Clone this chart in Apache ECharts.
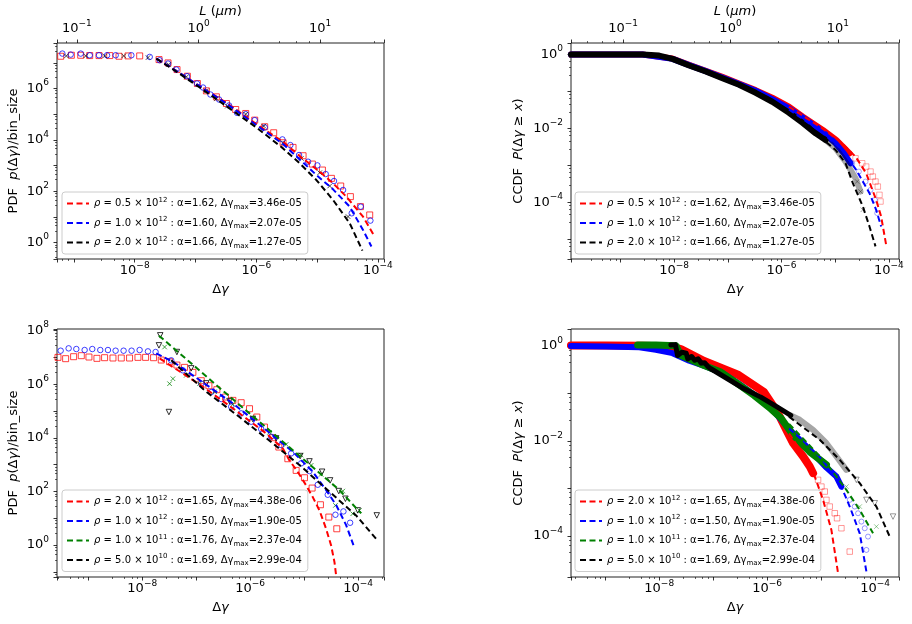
<!DOCTYPE html>
<html>
<head>
<meta charset="utf-8">
<script src="https://cdn.jsdelivr.net/npm/echarts@6/dist/echarts.min.js"></script>
<style>
  html, body { margin: 0; padding: 0; background: #fff; }
  #chart { width: 912px; height: 624px; }
</style>
</head>
<body>
<div id="chart"></div>
<script>
// every point is [log10(Δγ), log10(value)]

// ---- top left: PDF, three densities
const tlRed = [[-9.217,7.254],[-9.042,7.293],[-8.888,7.293],[-8.740,7.280],[-8.587,7.280],[-8.411,7.280],[-8.258,7.254],[-8.110,7.267],[-7.918,7.267],[-7.600,7.124],[-7.452,6.995],[-7.304,6.736],[-7.134,6.477],[-6.969,6.192],[-6.821,5.907],[-6.657,5.674],[-6.492,5.415],[-6.339,5.181],[-6.174,5.026],[-6.026,4.767],[-5.862,4.508],[-5.714,4.275],[-5.560,3.886],[-5.396,3.705],[-5.231,3.381],[-5.078,3.057],[-4.913,2.824],[-4.765,2.500],[-4.612,2.202],[-4.453,1.788],[-4.288,1.399],[-4.135,1.075]];
const tlBlue = [[-9.190,7.358],[-9.053,7.319],[-8.888,7.358],[-8.740,7.293],[-8.587,7.293],[-8.455,7.293],[-8.313,7.293],[-8.055,7.293],[-7.753,7.228],[-7.589,7.098],[-7.452,6.969],[-7.315,6.736],[-7.139,6.477],[-6.975,6.192],[-6.876,6.036],[-6.755,5.764],[-6.613,5.570],[-6.448,5.337],[-6.317,5.052],[-6.174,5.000],[-6.026,4.767],[-5.862,4.482],[-5.571,4.016],[-5.440,3.795],[-5.297,3.407],[-5.149,3.148],[-4.996,3.005],[-4.859,2.668],[-4.722,2.396],[-4.573,2.047],[-4.431,1.140],[-4.283,1.399],[-4.124,0.855]];
const tlBlack = [[-9.124,7.267],[-8.806,7.267],[-8.493,7.267],[-8.181,7.267],[-7.781,7.202],[-7.441,6.930],[-7.150,6.451],[-6.821,5.907],[-6.657,5.596],[-6.476,5.311],[-6.174,5.000],[-5.878,4.534],[-5.560,3.886],[-5.259,3.277],[-4.957,2.720],[-4.793,2.202],[-4.491,1.010]];
const tlFitRed = [[-7.644,7.163],[-7.315,6.684],[-6.931,6.088],[-6.492,5.440],[-5.999,4.611],[-5.560,3.925],[-5.286,3.368],[-4.957,2.759],[-4.738,2.306],[-4.519,1.788],[-4.245,1.010],[-4.053,0.233]];
const tlFitBlue = [[-7.644,7.163],[-7.315,6.684],[-6.931,6.088],[-6.492,5.415],[-5.999,4.573],[-5.560,3.834],[-5.286,3.238],[-5.012,2.630],[-4.738,2.073],[-4.464,1.399],[-4.245,0.492],[-4.107,-0.155]];
const tlFitBlack = [[-7.644,7.163],[-7.315,6.658],[-6.931,6.036],[-6.492,5.311],[-5.999,4.482],[-5.560,3.666],[-5.286,3.083],[-5.012,2.435],[-4.738,1.658],[-4.464,0.751],[-4.255,-0.311]];

// ---- top right: CCDF, three densities
const trBandRed = [[-9.922,0.0],[-8.589,0.0],[-8.031,-0.108],[-7.721,-0.279],[-7.411,-0.441],[-7.101,-0.604],[-6.791,-0.784],[-6.481,-0.964],[-6.171,-1.171],[-5.860,-1.414],[-5.600,-1.685],[-5.228,-2.045],[-4.980,-2.315],[-4.731,-2.676]];
const trBandBlue = [[-9.922,0.0],[-8.589,0.0],[-8.031,-0.117],[-7.721,-0.288],[-7.411,-0.450],[-7.101,-0.622],[-6.791,-0.802],[-6.481,-0.982],[-6.171,-1.207],[-5.860,-1.459],[-5.550,-1.757],[-5.240,-2.090],[-4.992,-2.405],[-4.837,-2.676],[-4.713,-2.946]];
const trBandBlack = [[-9.922,0.0],[-9.271,0.0],[-8.589,0.0],[-8.279,-0.027],[-8.031,-0.117],[-7.721,-0.297],[-7.411,-0.459],[-7.101,-0.640],[-6.791,-0.820],[-6.481,-1.036],[-6.171,-1.279],[-5.860,-1.577],[-5.612,-1.847],[-5.364,-2.135],[-5.178,-2.315]];
const trGrayBlack = [[-5.178,-2.315],[-4.992,-2.541],[-4.806,-2.901],[-4.620,-3.351],[-4.527,-3.712]];
const trTailRed = [[-4.620,-2.811],[-4.496,-2.946],[-4.422,-3.036],[-4.341,-3.171],[-4.298,-3.306],[-4.248,-3.441],[-4.205,-3.577],[-4.174,-3.802],[-4.155,-3.982]];
const trTailBlue = [[-4.682,-2.946],[-4.558,-3.171],[-4.434,-3.441],[-4.341,-3.667],[-4.260,-3.937],[-4.217,-4.297]];
const trTailBlack = [[-4.589,-3.441],[-4.527,-3.712],[-4.484,-4.207]];
const trFitRed = [[-5.860,-1.414],[-5.240,-2.000],[-4.868,-2.405],[-4.620,-2.766],[-4.422,-3.216],[-4.236,-3.937],[-4.143,-4.387],[-4.050,-5.153]];
const trFitBlue = [[-5.860,-1.486],[-5.240,-2.117],[-4.868,-2.586],[-4.608,-3.126],[-4.360,-3.757],[-4.236,-4.207],[-4.143,-4.658]];
const trFitBlack = [[-5.860,-1.577],[-5.364,-2.135],[-4.992,-2.586],[-4.806,-2.946],[-4.670,-3.486],[-4.484,-4.117],[-4.360,-4.658],[-4.248,-5.198]];

// ---- bottom left: PDF, four densities
const blRed = [[-9.562,7.002],[-9.420,6.953],[-9.272,7.027],[-9.130,7.065],[-8.988,7.015],[-8.840,6.965],[-8.698,6.990],[-8.543,6.978],[-8.389,6.978],[-8.235,6.978],[-8.080,7.002],[-7.938,7.002],[-7.790,6.990],[-7.648,6.903],[-7.494,6.841],[-7.358,6.716],[-7.216,6.629],[-7.062,6.443],[-6.907,6.132],[-6.765,5.945],[-6.617,5.796],[-6.457,5.522],[-6.321,5.398],[-6.167,5.311],[-6.012,5.087],[-5.877,4.776],[-5.735,4.403],[-5.580,4.005],[-5.469,3.657],[-5.302,3.221],[-5.148,2.786],[-4.994,2.512],[-4.852,2.127],[-4.698,1.505],[-4.543,1.045],[-4.395,0.609]];
const blBlue = [[-9.512,7.251],[-9.364,7.338],[-9.222,7.313],[-9.068,7.276],[-8.926,7.313],[-8.778,7.276],[-8.636,7.276],[-8.494,7.251],[-8.346,7.251],[-8.198,7.251],[-8.049,7.276],[-7.895,7.226],[-7.753,7.201],[-7.463,6.891],[-7.247,6.517],[-6.907,6.020],[-6.722,5.709],[-6.537,5.448],[-6.352,5.162],[-6.167,4.913],[-5.981,4.602],[-5.796,4.328],[-5.611,4.042],[-5.426,3.731],[-5.241,3.420],[-5.056,3.047],[-4.901,2.761],[-4.747,2.251],[-4.562,1.878],[-4.420,1.132],[-4.272,1.256],[-4.148,0.833]];
const blGreen = [[-7.586,7.388],[-7.494,6.020],[-7.432,6.206],[-7.185,6.331],[-6.938,6.020],[-6.660,5.721],[-6.321,5.249],[-5.951,4.751],[-5.642,4.204],[-5.333,3.756],[-5.056,3.358],[-4.870,2.973],[-4.685,2.637],[-4.420,1.480],[-4.284,2.015],[-4.099,1.169],[-3.975,1.294]];
const blBlack = [[-7.667,7.823],[-7.691,7.450],[-7.506,4.963],[-7.358,7.201],[-7.093,6.592],[-6.815,6.032],[-6.383,5.373],[-5.951,4.701],[-5.519,3.980],[-5.074,3.321],[-4.901,3.122],[-4.667,2.736],[-4.519,2.413],[-4.358,2.015],[-4.235,1.729],[-4.006,1.294],[-3.654,1.107]];
const blFitRed = [[-7.679,6.965],[-6.938,5.995],[-6.321,5.100],[-5.704,4.167],[-5.395,3.607],[-5.272,3.159],[-5.117,2.724],[-4.963,2.226],[-4.840,1.791],[-4.716,1.294],[-4.593,0.609],[-4.500,-0.012],[-4.438,-0.634],[-4.407,-1.132]];
const blFitBlue = [[-7.741,7.152],[-7.432,6.841],[-6.938,6.157],[-6.321,5.286],[-5.704,4.291],[-5.210,3.483],[-4.840,2.736],[-4.593,2.052],[-4.407,1.493],[-4.222,0.746],[-4.086,0.000]];
const blFitGreen = [[-7.691,7.811],[-7.185,6.940],[-6.630,5.970],[-6.012,4.913],[-5.395,3.856],[-4.778,2.799],[-4.346,2.052],[-3.944,1.182]];
const blFitBlack = [[-7.463,6.891],[-6.815,5.721],[-6.198,4.776],[-5.580,3.794],[-5.086,2.985],[-4.593,2.102],[-4.037,1.107],[-3.667,0.236]];

// ---- bottom right: CCDF, four densities
const brBandRed = [[-9.636,0.014],[-8.988,0.014],[-8.309,0.007],[-7.784,-0.007],[-7.599,-0.063],[-7.167,-0.316],[-6.549,-0.598],[-6.056,-0.970],[-5.809,-1.392],[-5.623,-1.814],[-5.519,-2.046],[-5.333,-2.327],[-5.210,-2.538],[-5.148,-2.678]];
const brBandBlue = [[-9.636,0.0],[-8.988,-0.007],[-8.370,-0.028],[-8.062,-0.077],[-7.753,-0.150],[-7.444,-0.310],[-7.136,-0.430],[-6.827,-0.570],[-6.519,-0.800],[-6.210,-1.050],[-5.901,-1.340],[-5.519,-1.835],[-5.210,-2.186],[-4.901,-2.560],[-4.716,-2.749],[-4.623,-2.960]];
const brBandGreen = [[-8.401,0.021],[-8.062,0.021],[-7.691,0.007],[-7.599,-0.197],[-7.167,-0.408],[-6.858,-0.548],[-6.549,-0.794],[-6.241,-1.040],[-5.932,-1.322],[-5.747,-1.511],[-5.519,-1.877],[-5.210,-2.229],[-4.901,-2.500]];
const brBandBlack = [[-7.784,0.021],[-7.700,0.030],[-7.660,-0.200],[-7.580,-0.130],[-7.500,-0.150],[-7.470,-0.270],[-7.400,-0.220],[-7.340,-0.300],[-7.280,-0.270],[-7.220,-0.360],[-7.160,-0.350],[-7.100,-0.430],[-7.043,-0.478],[-6.735,-0.689],[-6.426,-0.900],[-6.117,-1.076],[-5.809,-1.286],[-5.562,-1.462]];
const brGrayBlack = [[-5.562,-1.462],[-5.395,-1.554],[-5.148,-1.765],[-4.901,-2.046],[-4.716,-2.327],[-4.531,-2.608]];
const brTailRed = [[-5.056,-2.819],[-4.994,-2.960],[-4.932,-3.065],[-4.901,-3.241],[-4.840,-3.381],[-4.747,-3.522],[-4.704,-3.627],[-4.623,-3.838],[-4.469,-4.330]];
const brTailBlue = [[-4.469,-3.241],[-4.377,-3.381],[-4.315,-3.522],[-4.253,-3.698],[-4.191,-3.838],[-4.130,-4.014],[-4.160,-4.295]];
const brTailGreen = [[-4.716,-2.749],[-4.531,-2.960],[-4.284,-3.381],[-3.975,-3.803]];
const brTailBlack = [[-4.346,-2.819],[-4.160,-3.241],[-4.006,-3.311],[-3.667,-3.592]];
const brFitRed = [[-5.593,-1.842],[-5.346,-2.264],[-5.117,-2.749],[-4.963,-3.241],[-4.809,-3.874],[-4.685,-4.787]];
const brFitBlue = [[-5.593,-1.735],[-5.284,-2.050],[-4.975,-2.400],[-4.654,-2.889],[-4.469,-3.381],[-4.284,-3.944],[-4.160,-4.752]];
const brFitGreen = [[-5.593,-1.640],[-4.901,-2.467],[-4.531,-3.030],[-4.284,-3.452],[-4.037,-3.944]];
const brFitBlack = [[-5.593,-1.490],[-5.025,-1.975],[-4.654,-2.397],[-4.284,-2.889],[-3.975,-3.381],[-3.728,-4.014]];

// legend labels
const topFitNames = ['fit05', 'fit10', 'fit20'];
const bottomFitNames = ['fit2e12', 'fit1e12', 'fit1e11', 'fit5e10'];
const legendText = {
  fit05: '{i|ρ} = 0.5 × 10{s|12} : α=1.62, Δγ{m|max}=3.46e-05',
  fit10: '{i|ρ} = 1.0 × 10{s|12} : α=1.60, Δγ{m|max}=2.07e-05',
  fit20: '{i|ρ} = 2.0 × 10{s|12} : α=1.66, Δγ{m|max}=1.27e-05',
  fit2e12: '{i|ρ} = 2.0 × 10{s|12} : α=1.65, Δγ{m|max}=4.38e-06',
  fit1e12: '{i|ρ} = 1.0 × 10{s|12} : α=1.50, Δγ{m|max}=1.90e-05',
  fit1e11: '{i|ρ} = 1.0 × 10{s|11} : α=1.76, Δγ{m|max}=2.37e-04',
  fit5e10: '{i|ρ} = 5.0 × 10{s|10} : α=1.69, Δγ{m|max}=2.99e-04'
};

const FONT = 'DejaVu Sans';
const RED = '#ff0000', BLUE = '#0000ff', GREEN = '#008000', BLACK = '#000000';
const X_MARK = 'path://M0,0L10,10M10,0L0,10';

const pow10 = v => Math.pow(10, v);
const toXY = pts => pts.map(p => [pow10(p[0]), pow10(p[1])]);

const tickRich = {
  b: {fontFamily: FONT, fontSize: 13, color: '#000', lineHeight: 20},
  s: {fontFamily: FONT, fontSize: 9, color: '#000', lineHeight: 10, verticalAlign: 'top'}
};
const nameRich = {
  n: {fontFamily: FONT, fontSize: 13, color: '#000'},
  i: {fontFamily: FONT, fontSize: 13, color: '#000', fontStyle: 'italic'}
};
const legendRich = {
  i: {fontFamily: FONT, fontSize: 10, color: '#000', fontStyle: 'italic'},
  s: {fontFamily: FONT, fontSize: 7, color: '#000', lineHeight: 8, verticalAlign: 'top'},
  m: {fontFamily: FONT, fontSize: 7, color: '#000', lineHeight: 8, verticalAlign: 'bottom'}
};

function decadeLabel(step) {
  return function (v) {
    const e = Math.log10(v);
    const r = Math.round(e);
    if (Math.abs(e - r) > 1e-4 || r % step !== 0) return '';
    return '{b|10}{s|' + (r < 0 ? '\u2212' + (-r) : r) + '}';
  };
}

function logAxis(gridIndex, position, lo, hi, step, margin, name, nameGap) {
  return {
    type: 'log', gridIndex, position, min: pow10(lo), max: pow10(hi),
    splitLine: {show: false},
    axisLine: {show: false},
    axisTick: {show: true, length: 3.5, lineStyle: {color: '#000', width: 0.8}},
    minorTick: {show: true, splitNumber: 5, length: 2, lineStyle: {color: '#000', width: 0.6}},
    minorSplitLine: {show: false},
    axisLabel: {formatter: decadeLabel(step), rich: tickRich, margin, showMinLabel: false, showMaxLabel: false},
    name, nameLocation: 'middle', nameGap,
    nameTextStyle: {fontFamily: FONT, fontSize: 13, color: '#000', rich: nameRich}
  };
}

const NAME_DG = '{n|Δ}{i|γ}';
const NAME_L = '{i|L}{n| (}{i|μm}{n|)}';
const NAME_PDF = '{n|PDF  }{i|p}{n|(Δ}{i|γ}{n|)/bin_size}';
const NAME_CCDF = '{n|CCDF  }{i|P}{n|(Δ}{i|γ}{n| ≥ }{i|x}{n|)}';

const xAxis = [
  logAxis(0, 'bottom', -9.278, -3.90, 2, 2, NAME_DG, 24),
  logAxis(0, 'top', -1.164, 1.525, 1, 4, NAME_L, 23),
  logAxis(1, 'bottom', -9.922, -3.81, 2, 2, NAME_DG, 24),
  logAxis(1, 'top', -1.486, 1.57, 1, 4, NAME_L, 23),
  logAxis(2, 'bottom', -9.58, -3.52, 2, 2, NAME_DG, 24),
  logAxis(3, 'bottom', -9.635, -3.556, 2, 2, NAME_DG, 24)
];
const yAxis = [
  logAxis(0, 'left', -0.64, 7.77, 2, 8, NAME_PDF, 37),
  logAxis(1, 'left', -5.54, 0.313, 2, 8, NAME_CCDF, 46),
  logAxis(2, 'left', -1.19, 8.06, 2, 8, NAME_PDF, 37),
  logAxis(3, 'left', -4.865, 0.359, 2, 8, NAME_CCDF, 46)
];

function marks(xi, yi, pts, symbol, color, size, opacity, rotate) {
  return {
    type: 'scatter', xAxisIndex: xi, yAxisIndex: yi, data: toXY(pts),
    symbol, symbolSize: size, symbolRotate: rotate || 0, z: 3,
    itemStyle: {color: 'rgba(0,0,0,0)', borderColor: color, borderWidth: 1, opacity}
  };
}
function band(xi, yi, pts, color, width) {
  return {
    type: 'line', xAxisIndex: xi, yAxisIndex: yi, data: toXY(pts), symbol: 'none', z: 2,
    lineStyle: {color, width, cap: 'round', join: 'round'}
  };
}
function fit(name, xi, yi, pts, color) {
  return {
    name, type: 'line', xAxisIndex: xi, yAxisIndex: yi, data: toXY(pts), symbol: 'none', z: 4,
    itemStyle: {color},
    lineStyle: {color, width: 2, type: [6, 3.5]}
  };
}

const series = [
  // top left
  marks(0, 0, tlRed, 'rect', RED, 6, 0.75),
  marks(0, 0, tlBlue, 'circle', BLUE, 5.5, 0.75),
  marks(0, 0, tlBlack, X_MARK, BLACK, 4.5, 0.7),
  fit('fit05', 0, 0, tlFitRed, RED),
  fit('fit10', 0, 0, tlFitBlue, BLUE),
  fit('fit20', 0, 0, tlFitBlack, BLACK),
  // top right
  band(2, 1, trBandRed, RED, 6),
  band(2, 1, trBandBlue, BLUE, 6),
  band(2, 1, trBandBlack, BLACK, 6),
  band(2, 1, trGrayBlack, 'rgba(0,0,0,0.35)', 6),
  marks(2, 1, trTailRed, 'rect', RED, 5.5, 0.35),
  marks(2, 1, trTailBlue, 'circle', BLUE, 5, 0.35),
  marks(2, 1, trTailBlack, X_MARK, BLACK, 4.5, 0.35),
  fit('fit05', 2, 1, trFitRed, RED),
  fit('fit10', 2, 1, trFitBlue, BLUE),
  fit('fit20', 2, 1, trFitBlack, BLACK),
  // bottom left
  marks(4, 2, blRed, 'rect', RED, 6, 0.75),
  marks(4, 2, blBlue, 'circle', BLUE, 5.5, 0.75),
  marks(4, 2, blGreen, X_MARK, GREEN, 4.5, 0.75),
  marks(4, 2, blBlack, 'triangle', BLACK, 5.5, 0.8, 180),
  fit('fit2e12', 4, 2, blFitRed, RED),
  fit('fit1e12', 4, 2, blFitBlue, BLUE),
  fit('fit1e11', 4, 2, blFitGreen, GREEN),
  fit('fit5e10', 4, 2, blFitBlack, BLACK),
  // bottom right
  band(5, 3, brBandRed, RED, 8),
  band(5, 3, brBandBlue, BLUE, 6),
  band(5, 3, brBandGreen, GREEN, 7),
  band(5, 3, brBandBlack, BLACK, 5),
  band(5, 3, brGrayBlack, 'rgba(0,0,0,0.35)', 6),
  marks(5, 3, brTailRed, 'rect', RED, 5.5, 0.4),
  marks(5, 3, brTailBlue, 'circle', BLUE, 5, 0.4),
  marks(5, 3, brTailGreen, X_MARK, GREEN, 4.5, 0.4),
  marks(5, 3, brTailBlack, 'triangle', BLACK, 5.5, 0.4, 180),
  fit('fit2e12', 5, 3, brFitRed, RED),
  fit('fit1e12', 5, 3, brFitBlue, BLUE),
  fit('fit1e11', 5, 3, brFitGreen, GREEN),
  fit('fit5e10', 5, 3, brFitBlack, BLACK)
];

function legendAt(left, top, names) {
  return {
    orient: 'vertical', left, top, data: names, selectedMode: false,
    itemWidth: 22, itemHeight: 14, itemGap: 5.5,
    padding: [4.5, 6, 4.5, 4],
    backgroundColor: 'rgba(255,255,255,0.8)', borderColor: '#cccccc', borderWidth: 1, borderRadius: 3,
    itemStyle: {opacity: 0},
    formatter: n => legendText[n],
    textStyle: {fontFamily: FONT, fontSize: 10, color: '#000', lineHeight: 14, rich: legendRich}
  };
}

const chart = echarts.init(document.getElementById('chart'));
chart.setOption({
  animation: false,
  backgroundColor: '#fff',
  grid: [
    {left: 57, top: 43, width: 327, height: 216, show: true, borderColor: '#222', borderWidth: 1, backgroundColor: 'transparent'},
    {left: 571, top: 43, width: 328, height: 216, show: true, borderColor: '#222', borderWidth: 1, backgroundColor: 'transparent'},
    {left: 57, top: 329, width: 327, height: 248, show: true, borderColor: '#222', borderWidth: 1, backgroundColor: 'transparent'},
    {left: 571, top: 329, width: 328, height: 248, show: true, borderColor: '#222', borderWidth: 1, backgroundColor: 'transparent'}
  ],
  xAxis,
  yAxis,
  legend: [
    legendAt(62, 192, topFitNames),
    legendAt(575, 192, topFitNames),
    legendAt(62, 490, bottomFitNames),
    legendAt(575, 490, bottomFitNames)
  ],
  series
});
</script>
</body>
</html>
